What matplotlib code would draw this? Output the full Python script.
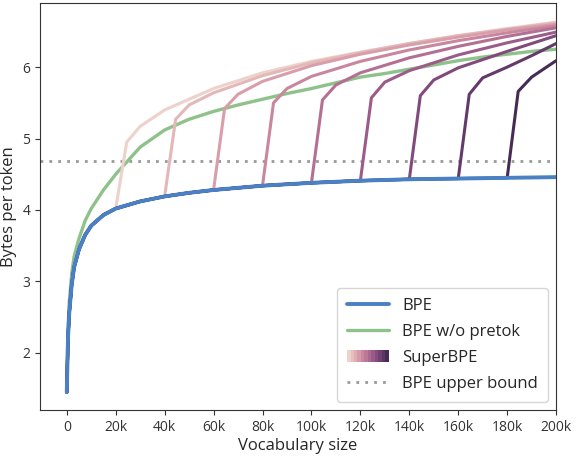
import matplotlib
matplotlib.use("Agg")
import matplotlib.pyplot as plt
import seaborn as sns
from matplotlib.legend_handler import HandlerBase
from matplotlib.patches import Rectangle
from matplotlib.lines import Line2D
from matplotlib.ticker import FuncFormatter

sns.set_style("ticks")
plt.rcParams['font.family'] = ['Open Sans', 'DejaVu Sans']

vocab = [0, 500, 1000, 2000, 3000, 5000, 7500, 10000, 15000, 20000, 30000, 40000, 50000, 60000,
         70000, 80000, 90000, 100000, 110000, 120000, 130000, 140000, 150000, 160000, 170000,
         180000, 190000, 200000]
bpe = [1.45, 2.2, 2.55, 2.95, 3.2, 3.45, 3.65, 3.78, 3.93, 4.02, 4.12, 4.19, 4.24, 4.28,
       4.31, 4.34, 4.36, 4.38, 4.395, 4.41, 4.42, 4.43, 4.435, 4.44, 4.445, 4.45, 4.455, 4.46]
nopretok = [1.45, 2.3, 2.7, 3.1, 3.35, 3.6, 3.85, 4.02, 4.28, 4.5, 4.88, 5.12, 5.27, 5.38,
            5.47, 5.55, 5.63, 5.7, 5.78, 5.86, 5.91, 5.97, 6.03, 6.09, 6.14, 6.18, 6.22, 6.25]
upper_bound = 4.68

transitions = [20000, 40000, 60000, 80000, 100000, 120000, 140000, 160000, 180000]
super_x = [
    [24500, 30000, 40000, 60000, 80000, 100000, 120000, 140000, 160000, 180000, 200000],
    [44500, 50000, 60000, 80000, 100000, 120000, 140000, 160000, 180000, 200000],
    [64500, 70000, 80000, 100000, 120000, 140000, 160000, 180000, 200000],
    [84500, 90000, 100000, 120000, 140000, 160000, 180000, 200000],
    [104500, 110000, 120000, 140000, 160000, 180000, 200000],
    [124500, 130000, 140000, 160000, 180000, 200000],
    [144500, 150000, 160000, 180000, 200000],
    [164500, 170000, 180000, 190000, 200000],
    [184500, 190000, 200000],
]
super_y = [
    [4.95, 5.17, 5.4, 5.7, 5.92, 6.08, 6.21, 6.33, 6.44, 6.54, 6.63],
    [5.27, 5.47, 5.64, 5.88, 6.06, 6.2, 6.33, 6.44, 6.53, 6.62],
    [5.42, 5.62, 5.8, 6.02, 6.18, 6.31, 6.42, 6.52, 6.6],
    [5.5, 5.7, 5.87, 6.08, 6.24, 6.37, 6.48, 6.58],
    [5.54, 5.75, 5.92, 6.13, 6.29, 6.43, 6.55],
    [5.57, 5.79, 5.95, 6.17, 6.34, 6.49],
    [5.6, 5.82, 5.99, 6.22, 6.44],
    [5.62, 5.85, 6.0, 6.16, 6.33],
    [5.66, 5.86, 6.09],
]

colors = sns.cubehelix_palette(len(transitions), light=0.85, dark=0.22)
blue = '#4a80c4'
green = '#8fc28a'

fig = plt.figure(figsize=(5.86, 4.67), dpi=100)
ax = fig.add_axes([0.068, 0.122, 0.881, 0.872])
ax.plot(vocab, nopretok, color=green, lw=2.4, zorder=2)
for t, xs, ys, c in zip(transitions, super_x, super_y, colors):
    i = vocab.index(t)
    ax.plot(vocab[:i + 1] + xs, bpe[:i + 1] + ys, color=c, lw=2.2, zorder=3)
ax.plot(vocab, bpe, color=blue, lw=2.8, zorder=4)
ax.axhline(upper_bound, color='#999999', ls=(0, (1, 2.2)), lw=2, zorder=1)

ax.set_xlim(-11000, 200000)
ax.set_ylim(1.2, 6.9)
ax.set_xticks(range(0, 200001, 20000))
ax.xaxis.set_major_formatter(FuncFormatter(lambda v, p: '0' if v == 0 else f'{int(v/1000)}k'))
ax.set_yticks([2, 3, 4, 5, 6])
ax.tick_params(labelsize=10, colors='#333333')
ax.set_xlabel('Vocabulary size', fontsize=12, labelpad=2)
ax.set_ylabel('Bytes per token', fontsize=12, labelpad=4)
for s in ax.spines.values():
    s.set_color('#333333')


class GradHandler(HandlerBase):
    def create_artists(self, legend, orig, xd, yd, w, h, fontsize, trans):
        n = 12
        pal = sns.cubehelix_palette(n, light=0.85, dark=0.22)
        return [Rectangle((xd + k * w / n, yd), w / n, h, facecolor=pal[k], edgecolor='none',
                          transform=trans) for k in range(n)]


handles = [Line2D([], [], color=blue, lw=2.8), Line2D([], [], color=green, lw=2.4),
           Rectangle((0, 0), 1, 1), Line2D([], [], color='#999999', ls=(0, (1, 2.2)), lw=2)]
labels = ['BPE', 'BPE w/o pretok', 'SuperBPE', 'BPE upper bound']
ax.legend(handles, labels, loc='lower right', fontsize=12, handler_map={Rectangle: GradHandler()},
          borderpad=0.6, labelspacing=0.6, handlelength=2.5)

fig.savefig('out.png', dpi=100)
